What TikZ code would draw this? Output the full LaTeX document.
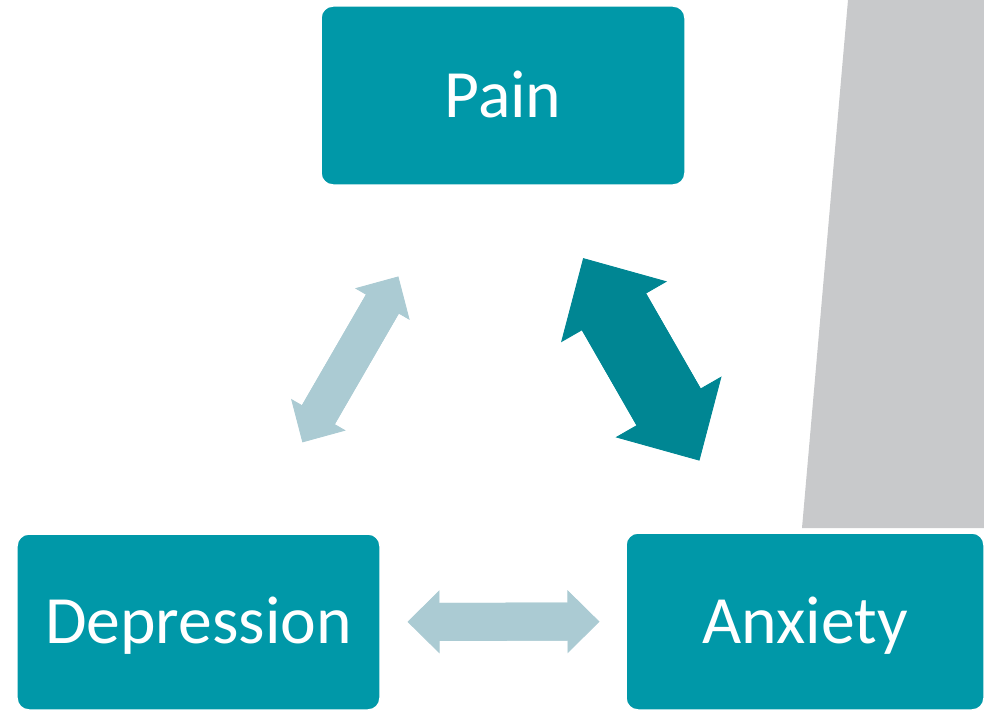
\documentclass[tikz,border=0pt]{standalone}
\usepackage{fontspec}
\setmainfont{Carlito}
\usetikzlibrary{arrows.meta,positioning}
\definecolor{boxTeal}{RGB}{  0,152,168}
\definecolor{arrDark}{RGB}{  0,134,147}
\definecolor{arrLight}{RGB}{171,203,211}
\definecolor{panelGray}{RGB}{200,201,203}
\tikzset{
  bx/.style ={rectangle, rounded corners=2.4mm, fill=boxTeal, draw=white,
               line width=0.3mm, text=white, align=center,
               font=\fontsize{38.5}{40}\selectfont, inner sep=0pt,
               text height=24.8pt, text depth=0pt},
  lt/.style ={draw=arrLight, line width=7.6mm,
               {Triangle[length=6.4mm, width=12.6mm, line width=0.5pt]}-{Triangle[length=6.4mm, width=12.6mm, line width=0.5pt]}},
  dk/.style ={draw=arrDark, line width=14.8mm,
               {Triangle[length=12.4mm, width=24.4mm, line width=0.5pt]}-{Triangle[length=12.4mm, width=24.4mm, line width=0.5pt]}},
  ltshaft/.style={draw=arrLight, line width=7.6mm},
  dkshaft/.style={draw=arrDark, line width=14.8mm},
}
\begin{document}
\begin{tikzpicture}[x=0.2mm, y=-0.2mm]
\useasboundingbox (0,0) rectangle (984,711);
% grey panel on the right
\fill[panelGray] (848,0) -- (984,0) -- (984,528) -- (802,528) -- cycle;
\node[bx, minimum width=72.8mm, minimum height=35.8mm] (pain) at (503,95.5) {Pain};
\node[bx, minimum width=72.6mm, minimum height=35.2mm] (dep)  at (198.5,622) {Depression};
\node[bx, minimum width=71.6mm, minimum height=35.4mm] (anx)  at (805,621.5) {Anxiety};
\draw[lt, shorten <=41.5mm, shorten >=41.8mm] (dep.center) -- (pain.center);
\draw[lt, shorten <=41.8mm, shorten >=41.1mm] (dep.center) -- (anx.center);
\draw[dk, shorten <=37.5mm, shorten >=37.1mm] ([xshift=-2.64mm]pain.center) -- ([xshift=-2.64mm]anx.center);
% shafts again, reaching into the heads (hides the seam)
\draw[ltshaft, shorten <=45.9mm, shorten >=46.2mm] (dep.center) -- (pain.center);
\draw[ltshaft, shorten <=46.2mm, shorten >=45.5mm] (dep.center) -- (anx.center);
\draw[dkshaft, shorten <=45.9mm, shorten >=45.5mm] ([xshift=-2.64mm]pain.center) -- ([xshift=-2.64mm]anx.center);
\end{tikzpicture}
\end{document}
